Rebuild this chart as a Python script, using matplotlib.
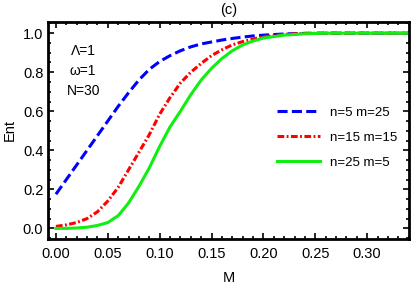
import numpy as np
import matplotlib
matplotlib.use('Agg')
import matplotlib.pyplot as plt
from matplotlib.ticker import MultipleLocator, FormatStrFormatter

plt.rcParams['font.family'] = ['Liberation Sans', 'DejaVu Sans']

M = [0.00, 0.01, 0.02, 0.03, 0.04, 0.05, 0.06, 0.07, 0.08, 0.09, 0.10,
     0.11, 0.12, 0.13, 0.14, 0.15, 0.16, 0.17, 0.18, 0.19, 0.20, 0.22,
     0.24, 0.26, 0.30, 0.34]

ent_n5 = [0.175, 0.25, 0.325, 0.40, 0.475, 0.55, 0.625, 0.695, 0.76, 0.815, 0.855,
          0.885, 0.91, 0.93, 0.945, 0.955, 0.965, 0.973, 0.98, 0.986, 0.99, 0.996,
          0.999, 1.0, 1.0, 1.0]
ent_n15 = [0.01, 0.018, 0.03, 0.05, 0.085, 0.14, 0.21, 0.30, 0.39, 0.48, 0.585,
           0.67, 0.745, 0.80, 0.845, 0.885, 0.915, 0.94, 0.957, 0.97, 0.982, 0.994,
           0.999, 1.0, 1.0, 1.0]
ent_n25 = [0.0, 0.0, 0.002, 0.006, 0.015, 0.03, 0.065, 0.13, 0.215, 0.31, 0.42,
           0.52, 0.60, 0.685, 0.76, 0.82, 0.87, 0.91, 0.94, 0.96, 0.975, 0.99,
           0.997, 1.0, 1.0, 1.0]

labels = ['n=5 m=25', 'n=15 m=15', 'n=25 m=5']

fig = plt.figure(figsize=(4.15, 2.84), dpi=100)
ax = fig.add_axes([0.116, 0.158, 0.870, 0.765])

ax.plot(M, ent_n5, color='#0000ff', lw=2.2, dashes=(3.3, 1.4), label=labels[0])
ax.plot(M, ent_n15, color='#ff0000', lw=2.2, dashes=(2.2, 0.8, 0.6, 0.8), label=labels[1])
ax.plot(M, ent_n25, color='#11ee11', lw=2.2, label=labels[2])

ax.set_xlim(-0.0075, 0.3405)
ax.set_ylim(-0.055, 1.058)
ax.xaxis.set_major_locator(MultipleLocator(0.05))
ax.xaxis.set_minor_locator(MultipleLocator(0.01))
ax.yaxis.set_major_locator(MultipleLocator(0.2))
ax.yaxis.set_minor_locator(MultipleLocator(0.05))
ax.xaxis.set_major_formatter(FormatStrFormatter('%.2f'))
ax.yaxis.set_major_formatter(FormatStrFormatter('%.1f'))
ax.tick_params(which='both', direction='in', top=True, right=True, labelsize=10.5, width=1.2)
ax.tick_params(which='major', length=4)
ax.tick_params(which='minor', length=2)
ax.tick_params(axis='x', pad=6)
for s in ax.spines.values():
    s.set_linewidth(2)

ax.set_xlabel('M', fontsize=10.5, labelpad=7)
ax.set_ylabel('Ent', fontsize=10.5, labelpad=4)
ax.set_title('(c)', fontsize=10.5, pad=6)

ax.text(0.097, 0.775, 'Λ=1\nω=1\nN=30', transform=ax.transAxes, ha='center', va='center',
        fontsize=10, linespacing=1.55)

ax.legend(loc='lower right', bbox_to_anchor=(1.0, 0.27), frameon=False, fontsize=9.5,
          handlelength=3.2, labelspacing=0.95, handletextpad=0.8)

fig.savefig('out.png', dpi=100)
